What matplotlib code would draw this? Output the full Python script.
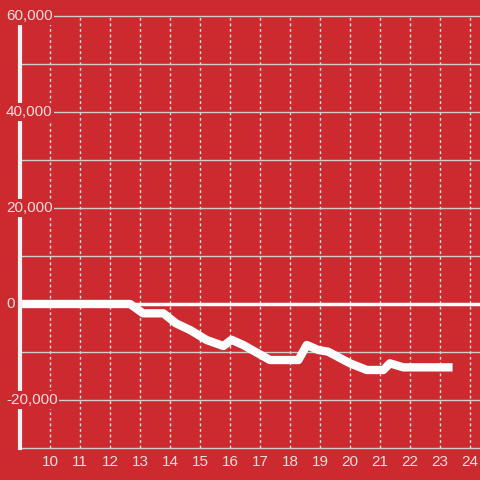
import matplotlib.pyplot as plt

bg = '#cc2a2f'
txt = '#f5dcdc'

# line data (x, value)
xs = [9.0, 12.67, 13.1, 13.78, 14.2, 14.67, 15.22, 15.78, 16.05, 16.44,
      17.33, 18.28, 18.56, 18.94, 19.27, 20.0, 20.56, 21.11, 21.33, 21.78, 23.42]
vals = [0, 0, -1940, -1940, -4030, -5420, -7500, -8750, -7450, -8540,
        -11670, -11670, -8540, -9580, -9930, -12360, -13750, -13750, -12360, -13200, -13200]

x_ticks = list(range(10, 25))
y_ticks = [-30000, -20000, -10000, 0, 10000, 20000, 30000, 40000, 50000, 60000]
y_labels = {60000: '60,000', 40000: '40,000', 20000: '20,000', 0: '0', -20000: '-20,000'}

plt.rcParams['font.family'] = ['Liberation Sans', 'DejaVu Sans']

fig = plt.figure(figsize=(4.8, 4.8), dpi=100, facecolor=bg)
ax = fig.add_axes([20/480, 32/480, 460/480, 432/480])
ax.set_facecolor(bg)

ax.set_xlim(9, 9 + 460/30)
ax.set_ylim(-30000, 60000)

for t in x_ticks:
    ax.axvline(t, color='#e6e6e6', lw=1, ls=(0, (2, 2)), zorder=1)
for v in y_ticks:
    if v == 0:
        ax.axhline(v, color='white', lw=2.5, zorder=2)
    else:
        ax.axhline(v, color='#cfcfcf', lw=1, zorder=1, clip_on=False)

ax.plot(xs, vals, color='white', lw=6, solid_capstyle='butt',
        solid_joinstyle='round', zorder=3)

for s in ['top', 'right', 'bottom']:
    ax.spines[s].set_visible(False)
ax.spines['left'].set_color('#f2f2f2')
ax.spines['left'].set_linewidth(3)
ax.spines['left'].set_zorder(4)

ax.set_xticks(x_ticks)
ax.set_xticklabels([str(t) for t in x_ticks])
ax.tick_params(axis='x', length=0, pad=5, labelsize=11, labelcolor=txt)
ax.set_yticks([])

tr = ax.get_yaxis_transform()
for v, lab in y_labels.items():
    ax.text(-14/460, v, lab, transform=tr, ha='left', va='center',
            fontsize=11, color=txt, zorder=6, clip_on=False,
            bbox=dict(boxstyle='square,pad=0.1', fc=bg, ec='none'))

fig.savefig('out.png', dpi=100, facecolor=bg)
